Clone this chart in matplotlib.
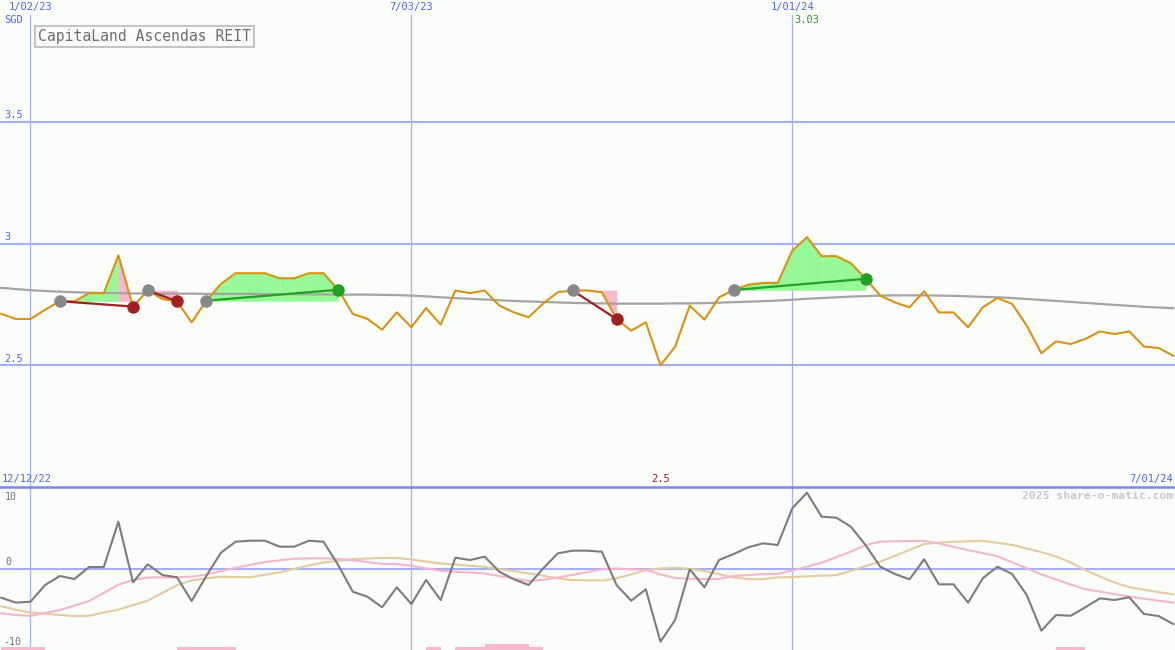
import numpy as np
import pandas as pd
import matplotlib
matplotlib.use("Agg")
import matplotlib.pyplot as plt
import matplotlib.dates as mdates

# ============================================================
# Data (weekly)
# ============================================================
weeks = pd.date_range("2022-12-19", periods=81, freq="7D")

price = [2.711, 2.690, 2.690, 2.728, 2.763, 2.763, 2.796, 2.796, 2.951, 2.741,
         2.807, 2.772, 2.763, 2.676, 2.765, 2.834, 2.878, 2.878, 2.878, 2.857,
         2.857, 2.878, 2.878, 2.810, 2.711, 2.690, 2.646, 2.717, 2.656, 2.735,
         2.667, 2.807, 2.796, 2.807, 2.745, 2.717, 2.697, 2.754, 2.800, 2.807,
         2.807, 2.800, 2.690, 2.642, 2.676, 2.500, 2.576, 2.745, 2.687, 2.779,
         2.809, 2.831, 2.838, 2.838, 2.971, 3.026, 2.948, 2.948, 2.919, 2.855,
         2.786, 2.758, 2.738, 2.804, 2.717, 2.717, 2.656, 2.738, 2.776, 2.752,
         2.663, 2.549, 2.598, 2.587, 2.608, 2.639, 2.628, 2.639, 2.577, 2.571,
         2.539]

long_ma = [2.818, 2.813, 2.808, 2.805, 2.802, 2.800, 2.798, 2.797, 2.796, 2.795,
           2.795, 2.794, 2.794, 2.794, 2.793, 2.793, 2.793, 2.793, 2.792, 2.792,
           2.792, 2.791, 2.791, 2.790, 2.790, 2.790, 2.789, 2.788, 2.786, 2.783,
           2.779, 2.776, 2.773, 2.770, 2.767, 2.764, 2.762, 2.760, 2.758, 2.756,
           2.755, 2.754, 2.753, 2.753, 2.753, 2.753, 2.754, 2.754, 2.755, 2.757,
           2.759, 2.761, 2.763, 2.766, 2.769, 2.773, 2.776, 2.779, 2.782, 2.784,
           2.786, 2.787, 2.787, 2.787, 2.786, 2.785, 2.783, 2.781, 2.779, 2.776,
           2.772, 2.768, 2.764, 2.760, 2.756, 2.752, 2.748, 2.744, 2.740, 2.737,
           2.734]

# trades: (entry week index, exit week index) into the arrays above
trades = [(4, 9), (10, 12), (14, 23), (39, 42), (50, 59)]

osc = [-3.58, -4.19, -4.07, -2.02, -0.92, -1.29, 0.18, 0.18, 5.74, -1.70,
       0.51, -0.80, -1.08, -3.99, -0.92, 1.94, 3.29, 3.41, 3.41, 2.68,
       2.68, 3.41, 3.29, 0.43, -2.85, -3.46, -4.76, -2.31, -4.36, -1.41,
       -3.87, 1.33, 1.04, 1.45, -0.39, -1.33, -2.02, 0.02, 1.86, 2.19,
       2.19, 2.06, -2.02, -3.95, -2.56, -8.98, -6.32, -0.10, -2.31, 1.04,
       1.78, 2.60, 3.09, 2.88, 7.39, 9.30, 6.36, 6.24, 5.13, 2.88,
       0.22, -0.67, -1.33, 1.13, -1.94, -1.94, -4.19, -1.20, 0.22, -0.67,
       -3.25, -7.63, -5.71, -5.80, -4.76, -3.66, -3.87, -3.53, -5.58, -5.83,
       -6.81]

osc_fast = [-5.50, -5.70, -5.83, -5.45, -5.10, -4.55, -3.98, -3.00, -1.98, -1.41,
            -1.12, -1.08, -1.08, -1.00, -0.75, -0.32, 0.08, 0.45, 0.80, 1.00,
            1.20, 1.25, 1.25, 1.18, 1.00, 0.78, 0.56, 0.55, 0.32, 0.02,
            -0.27, -0.39, -0.49, -0.62, -0.93, -1.23, -1.53, -1.40, -1.10, -0.78,
            -0.45, -0.10, 0.00, -0.10, -0.16, -0.72, -1.17, -1.26, -1.30, -1.28,
            -0.92, -0.80, -0.68, -0.67, -0.25, 0.24, 0.70, 1.40, 2.07, 2.88,
            3.30, 3.33, 3.37, 3.40, 3.07, 2.65, 2.25, 1.88, 1.50, 0.77,
            0.03, -0.73, -1.34, -1.97, -2.53, -2.84, -3.14, -3.45, -3.70, -3.95,
            -4.19]

osc_slow = [-4.63, -5.05, -5.42, -5.56, -5.70, -5.84, -5.80, -5.40, -5.05, -4.50,
            -3.95, -3.00, -2.05, -1.47, -1.20, -1.00, -1.05, -1.07, -0.77, -0.47,
            -0.05, 0.38, 0.73, 0.95, 1.15, 1.22, 1.30, 1.30, 1.10, 0.85,
            0.62, 0.48, 0.34, 0.20, -0.07, -0.33, -0.60, -0.90, -1.20, -1.42,
            -1.45, -1.48, -1.20, -0.73, -0.22, 0.00, 0.10, -0.05, -0.30, -0.70,
            -1.10, -1.30, -1.30, -1.10, -1.05, -0.96, -0.88, -0.82, -0.30, 0.30,
            0.84, 1.55, 2.27, 3.00, 3.18, 3.27, 3.34, 3.40, 3.15, 2.90,
            2.45, 2.00, 1.47, 0.75, -0.20, -0.98, -1.73, -2.29, -2.60, -2.90,
            -3.17]

signal_bars = [1, 1, 1, 0, 0, 0, 0, 0, 0, 0,
               0, 0, 1, 1, 1, 1, 0, 0, 0, 0,
               0, 0, 0, 0, 0, 0, 0, 0, 0, 1,
               0, 1, 1, 2, 2, 2, 1, 0, 0, 0,
               0, 0, 0, 0, 0, 0, 0, 0, 0, 0,
               0, 0, 0, 0, 0, 0, 0, 0, 0, 0,
               0, 0, 0, 0, 0, 0, 0, 0, 0, 0,
               0, 0, 1, 1, 0, 0, 0, 0, 0, 0,
               0]

price_ticks = [2.5, 3, 3.5]
price_tick_labels = ["2.5", "3", "3.5"]
osc_tick_labels = ["10", "0", "-10"]
marker_dates = ["2023-01-02", "2023-07-03", "2024-01-01"]
range_labels = ["12/12/22", "7/01/24"]
title = "CapitaLand Ascendas REIT"

# ============================================================
# Style
# ============================================================
W, H = 1175, 650
bg = "#fbfdfb"
grid_c = "#a4b0f2"
blue_txt = "#5064f0"
orange = "#da9310"
green_fill = "#96f896"
pink_fill = "#f8b8cc"
green_line = "#22a022"
red_line = "#a02020"
mono = "DejaVu Sans Mono"

x = mdates.date2num(weeks)
price = np.array(price)
xlim = (x[0] - 0.57, x[-1] + 0.85)

fig = plt.figure(figsize=(W / 100, H / 100), dpi=100, facecolor=bg)
ax = fig.add_axes([0, 163 / H, 1, 487 / H])
ax2 = fig.add_axes([0, 0, 1, 163 / H])
for a in (ax, ax2):
    a.set_axis_off()
    a.set_xlim(*xlim)
ax.set_ylim(2.0, 4.0)
ax2.set_ylim(-10, 10)

# ============================================================
# Price panel
# ============================================================
for v in price_ticks:
    ax.axhline(v, color=grid_c, lw=1.5, zorder=1)
for d in marker_dates:
    ax.axvline(mdates.date2num(pd.Timestamp(d)), ymax=(487 - 15) / 487,
               color=grid_c, lw=0.9, zorder=1)
    ax2.axvline(mdates.date2num(pd.Timestamp(d)), color=grid_c, lw=0.9, zorder=1)

# trade shading: green while the week closes at/above entry, pink below
for k0, k1 in trades:
    entry = price[k0]
    for k in range(k0, k1):
        c = green_fill if price[k + 1] >= entry else pink_fill
        ax.fill_between(x[k:k + 2], entry, price[k:k + 2], color=c, ec=c,
                        lw=0.4, zorder=2)

ax.plot(x, long_ma, color="#a4a4a4", lw=1.6, zorder=3)
ax.plot(x, price, color=orange, lw=1.5, zorder=4)

for k0, k1 in trades:
    win = price[k1] > price[k0]
    c = green_line if win else red_line
    ax.plot([x[k0], x[k1]], [price[k0], price[k1]], color=c, lw=1.6, zorder=5)
    ax.plot(x[k0], price[k0], "o", color="#888888", ms=9, mec="none", zorder=6)
    ax.plot(x[k1], price[k1], "o", color=c, ms=9, mec="none", zorder=6)

# labels
for v, lbl in zip(price_ticks, price_tick_labels):
    ax.annotate(lbl, xy=(0.004, v), xycoords=ax.get_yaxis_transform(),
                xytext=(0, 1), textcoords="offset points", va="bottom",
                color=blue_txt, fontsize=7.5, family=mono)
for d in marker_dates:
    t = pd.Timestamp(d)
    ax.text(mdates.date2num(t), 1 - 7 / 487, f"{t.month}/{t.day:02d}/{t:%y}",
            transform=ax.get_xaxis_transform(), ha="center", va="center",
            color=blue_txt, fontsize=7.5, family=mono)
ax.text(0.004, 1 - 20 / 487, "SGD", transform=ax.transAxes, va="center",
        color=blue_txt, fontsize=7.5, family=mono)

kmax = int(np.argmax(price))
ax.text(x[kmax], 1 - 20 / 487, f"{round(price.max(), 2):g}",
        transform=ax.get_xaxis_transform(), ha="center", va="center",
        color=green_line, fontsize=7.5, family=mono)

ax.text(38 / W, 1 - 36.5 / 487, title, transform=ax.transAxes, va="center",
        color="#6e6e6e", fontsize=10.6, family=mono,
        bbox=dict(boxstyle="square,pad=0.22", fc=bg, ec="#c4c4c4", lw=1.5))

# ============================================================
# Oscillator panel
# ============================================================
ax2.axhline(0, color=grid_c, lw=1.5, zorder=1)
ax2.axhline(10, color="#7888f0", lw=1.8, zorder=1, clip_on=False)

bar_unit = 0.37
ax2.bar(x, np.array(signal_bars) * bar_unit, width=7, align="edge", bottom=-10,
        color=pink_fill, lw=0, zorder=2)

ax2.plot(x, osc_slow, color="#e4cc9c", lw=1.5, zorder=3)
ax2.plot(x, osc_fast, color="#f8b4cc", lw=1.5, zorder=3)
ax2.plot(x, osc, color="#7c7c7c", lw=1.5, zorder=4)

ax2.text(5 / W, 1 - 10 / 163, osc_tick_labels[0], transform=ax2.transAxes,
         va="center", color="#707070", fontsize=7.2, family=mono)
ax2.annotate(osc_tick_labels[1], xy=(5 / W, 0), xycoords=ax2.get_yaxis_transform(),
             xytext=(0, 1), textcoords="offset points", va="bottom",
             color="#707070", fontsize=7.2, family=mono)
ax2.text(3 / W, 1 - 155 / 163, osc_tick_labels[2], transform=ax2.transAxes,
         va="center", color="#707070", fontsize=7.2, family=mono)
ax2.text(1 - 2 / W, 1 - 9 / 163, "2025 share-o-matic.com", transform=ax2.transAxes,
         ha="right", va="center", color="#c8c8c8", fontsize=8.2, family=mono,
         fontweight="bold")

# range labels above the separator
fig.text(2 / W, 1 - 479 / H, range_labels[0], va="center", color=blue_txt,
         fontsize=7.5, family=mono)
fig.text(1 - 2 / W, 1 - 479 / H, range_labels[1], ha="right", va="center",
         color=blue_txt, fontsize=7.5, family=mono)
kmin = int(np.argmin(price))
ax.text(x[kmin], 8 / 487, f"{round(price.min(), 2):g}",
        transform=ax.get_xaxis_transform(), ha="center", va="center",
        color="#a02020", fontsize=7.5, family=mono)

fig.savefig("out.png", dpi=100, facecolor=bg)
